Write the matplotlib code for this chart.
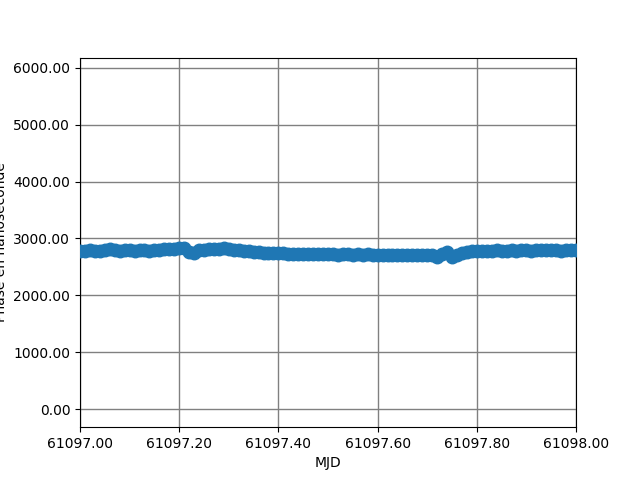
import matplotlib
matplotlib.use("Agg")
import matplotlib.pyplot as plt
from matplotlib.ticker import FormatStrFormatter

mjd_offsets = [
    0.00, 0.01, 0.02, 0.03, 0.04, 0.05, 0.06, 0.07, 0.08, 0.09,
    0.10, 0.11, 0.12, 0.13, 0.14, 0.15, 0.16, 0.17, 0.18, 0.19,
    0.20, 0.21, 0.22, 0.23, 0.24, 0.25, 0.26, 0.27, 0.28, 0.29,
    0.30, 0.31, 0.32, 0.33, 0.34, 0.35, 0.36, 0.37, 0.38, 0.39,
    0.40, 0.41, 0.42, 0.43, 0.44, 0.45, 0.46, 0.47, 0.48, 0.49,
    0.50, 0.51, 0.52, 0.53, 0.54, 0.55, 0.56, 0.57, 0.58, 0.59,
    0.60, 0.61, 0.62, 0.63, 0.64, 0.65, 0.66, 0.67, 0.68, 0.69,
    0.70, 0.71, 0.72, 0.73, 0.74, 0.75, 0.76, 0.77, 0.78, 0.79,
    0.80, 0.81, 0.82, 0.83, 0.84, 0.85, 0.86, 0.87, 0.88, 0.89,
    0.90, 0.91, 0.92, 0.93, 0.94, 0.95, 0.96, 0.97, 0.98, 0.99, 1.00,
]
mjd_base = 61097.0

phase_ns = [
    2785, 2780, 2790, 2775, 2785, 2795, 2810, 2800, 2780, 2790,
    2795, 2785, 2800, 2790, 2780, 2790, 2800, 2815, 2810, 2820,
    2825, 2830, 2760, 2745, 2790, 2805, 2810, 2815, 2820, 2830,
    2815, 2800, 2790, 2780, 2770, 2765, 2755, 2750, 2745, 2740,
    2735, 2735, 2730, 2728, 2730, 2725, 2722, 2725, 2720, 2722,
    2718, 2720, 2716, 2718, 2720, 2715, 2718, 2716, 2720, 2715,
    2714, 2716, 2712, 2715, 2714, 2716, 2713, 2712, 2715, 2712,
    2710, 2705, 2670, 2720, 2755, 2680, 2715, 2750, 2760, 2775,
    2780, 2770, 2785, 2780, 2790, 2785, 2775, 2790, 2785, 2795,
    2790, 2785, 2795, 2790, 2788, 2795, 2790, 2785, 2792, 2790, 2788,
]

mjd = [mjd_base + o for o in mjd_offsets]

fig, ax = plt.subplots(figsize=(6.4, 4.8), dpi=100)
ax.plot(mjd, phase_ns, 'o', color='#1f77b4', markersize=9, zorder=3)
ax.set_xlim(61097.0, 61098.0)
ax.set_ylim(-320, 6180)
ax.set_xticks([61097.0, 61097.2, 61097.4, 61097.6, 61097.8, 61098.0])
ax.set_yticks([0, 1000, 2000, 3000, 4000, 5000, 6000])
ax.xaxis.set_major_formatter(FormatStrFormatter('%.2f'))
ax.yaxis.set_major_formatter(FormatStrFormatter('%.2f'))
ax.ticklabel_format
ax.grid(True, color='gray', linewidth=1)
ax.set_axisbelow(True)
ax.set_xlabel('MJD')
ax.set_ylabel('Phase en nanoseconde')
fig.savefig('out.png', dpi=100)
